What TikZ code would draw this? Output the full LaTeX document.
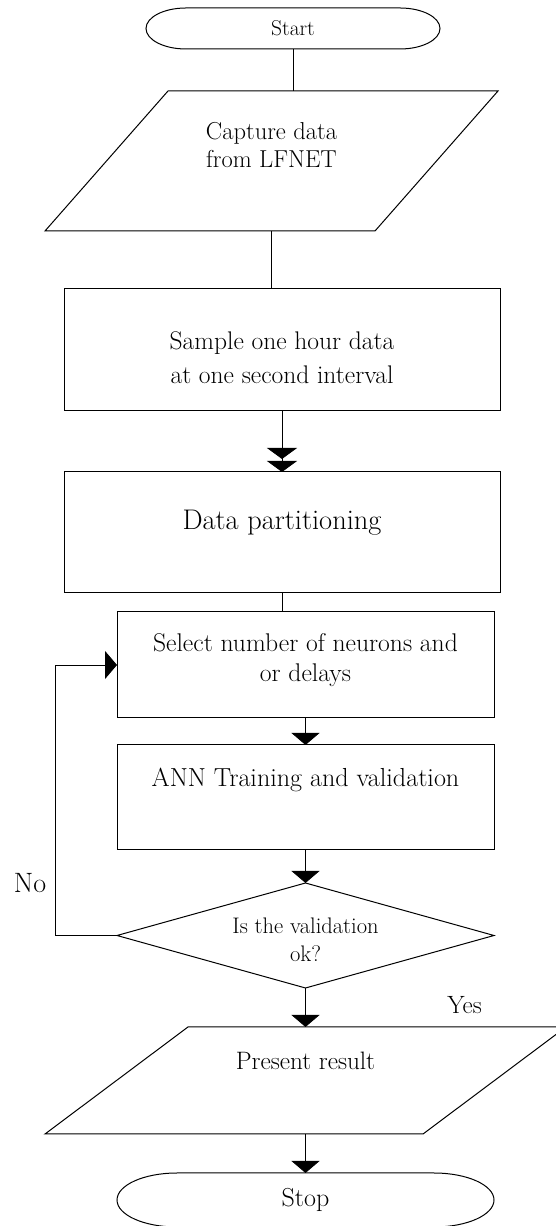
\documentclass[tikz,border=0pt]{standalone}
\usepackage{fontspec}
\usetikzlibrary{shapes.geometric,arrows.meta}

% extra space under / above the text of a node
\newcommand{\lowpad}[1]{\rule[-#1]{0pt}{#1}}
\newcommand{\toppad}[1]{\rule{0pt}{#1}}
% outline of a terminal node: node, end x-radius, end y-radius
\newcommand{\capsule}[3]{%
  \draw[outline] ([xshift=#2pt]#1.north west) -- ([xshift=-#2pt]#1.north east)
    arc[start angle=90, end angle=-90, x radius=#2pt, y radius=#3pt]
    -- ([xshift=#2pt]#1.south west)
    arc[start angle=270, end angle=90, x radius=#2pt, y radius=#3pt] -- cycle;}
% outline of an input/output node: node, slant offset
\newcommand{\slanted}[2]{%
  \draw[outline] (#1.south west) -- ([xshift=-#2pt]#1.south east)
    -- (#1.north east) -- ([xshift=#2pt]#1.north west) -- cycle;}

\begin{document}
\begin{tikzpicture}[x=1pt, y=1pt,
    every node/.style={inner sep=0pt, outer sep=0pt, align=center},
    outline/.style={line width=1pt},
    link/.style={line width=0.8pt},
    arr/.style={link, -{Triangle[width=28pt, length=12pt]}},
    block/.style={draw, outline, rectangle},
    frame/.style={rectangle}]

  \useasboundingbox (0,0) rectangle (555,1226);

  % Flow steps
  \node[frame, minimum width=294pt, minimum height=41pt,
        font=\fontsize{21.5}{25}\selectfont] (start) at (293,1197.5) {Start};
  \node[frame, minimum width=453pt, minimum height=140pt,
        font=\fontsize{24.5}{28}\selectfont] (capture) at (271.5,1065)
        {Capture data\\from LFNET\lowpad{32pt}};
  \node[block, minimum width=436pt, minimum height=122pt,
        font=\fontsize{25.5}{34}\selectfont] (samp) at (282,876)
        {\toppad{33pt}Sample one hour data\\at one second interval};
  \node[block, minimum width=436pt, minimum height=121pt,
        font=\fontsize{28.4}{33}\selectfont] (part) at (282,693.5)
        {Data partitioning\lowpad{25pt}};
  \node[block, minimum width=377pt, minimum height=106pt,
        font=\fontsize{25.6}{30}\selectfont] (sel) at (305.5,561)
        {Select number of neurons and\\or delays\lowpad{15pt}};
  \node[block, minimum width=377pt, minimum height=105pt,
        font=\fontsize{26.1}{30}\selectfont] (ann) at (305.5,428.5)
        {ANN Training and validation\lowpad{40pt}};
  \node[draw, outline, diamond, aspect=3.59, minimum width=377pt, minimum height=105pt,
        font=\fontsize{22.5}{28}\selectfont] (valid) at (305.5,290.5)
        {\toppad{25pt}Is the validation\\ok?};
  \node[frame, minimum width=521pt, minimum height=107pt,
        font=\fontsize{25.2}{29}\selectfont] (pres) at (305.5,145.5)
        {Present result\lowpad{40pt}};
  \node[frame, minimum width=377pt, minimum height=54pt,
        font=\fontsize{26}{30}\selectfont] (stop) at (305.5,26) {Stop};

  \capsule{start}{40}{20.5}
  \capsule{stop}{60}{27}
  \slanted{capture}{123}
  \slanted{pres}{143}

  % Branch labels
  \node[font=\fontsize{28}{32}\selectfont] (no) at (30,343) {No};
  \node[font=\fontsize{25}{29}\selectfont] (yes) at (464.5,221) {Yes};

  % Connectors
  \draw[link] (start.south) -- (start.south |- capture.north);
  \draw[link] (capture.south) -- (capture.south |- samp.north);
  \draw[link, -{Triangle[width=30pt, length=11pt, sep=2pt]Triangle[width=30pt, length=11pt]}]
    (samp.south) -- (part.north);
  \draw[link] (part.south) -- (part.south |- sel.north);
  \draw[arr] (sel.south) -- (ann.north);
  \draw[arr] (ann.south) -- (valid.north);
  \draw[arr] (valid.west) -- ++(-62,0) |- (sel.west);
  \draw[arr] (valid.south) -- (pres.north);
  \draw[arr] (pres.south) -- (stop.north);
\end{tikzpicture}
\end{document}
